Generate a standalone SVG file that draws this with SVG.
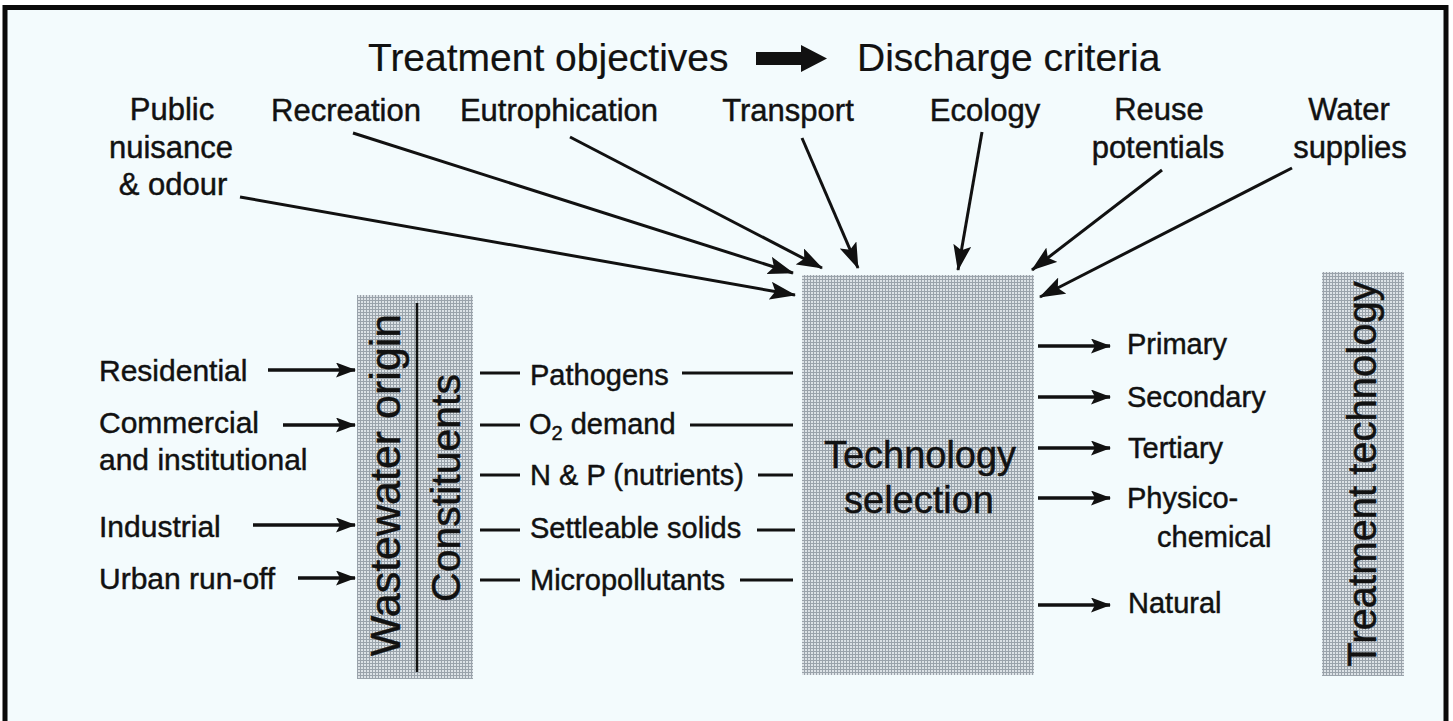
<svg xmlns="http://www.w3.org/2000/svg" width="1453" height="721" viewBox="0 0 1453 721">
<style>
text{font-family:"Liberation Sans",Arial,Helvetica,sans-serif;fill:#111;stroke:#111;stroke-width:0.45px}
.top{font-size:31px;text-anchor:middle}
.lbl{font-size:30px}
.con{font-size:29px}
.out{font-size:29px}
.big{font-size:39px;stroke-width:0.2px}
.ln{stroke:#111;stroke-width:3;fill:none}
.ar{stroke:#111;stroke-width:3;fill:none;marker-end:url(#ah)}
.sa{stroke:#111;stroke-width:3.5;fill:none;marker-end:url(#sh)}
.box{fill:url(#dots)}
</style>
<defs>
<pattern id="dots" width="3" height="3" patternUnits="userSpaceOnUse">
<rect width="3" height="3" fill="#dce2e6"/>
<rect width="3" height="1" fill="#9aa3ab"/>
<rect width="1" height="3" fill="#9aa3ab"/>
</pattern>
<marker id="ah" viewBox="0 0 26 18" refX="25" refY="9" markerWidth="26" markerHeight="18" markerUnits="userSpaceOnUse" orient="auto">
<path d="M0,0 L26,9 L0,18 L5,9 Z" fill="#111"/>
</marker>
<marker id="sh" viewBox="0 0 20 15" refX="19" refY="7.5" markerWidth="20" markerHeight="15" markerUnits="userSpaceOnUse" orient="auto">
<path d="M0,0 L20,7.5 L0,15 L4,7.5 Z" fill="#111"/>
</marker>
</defs>
<rect x="0" y="0" width="1453" height="721" fill="#ffffff"/>
<rect x="5" y="7.5" width="1441" height="730" fill="#f3fbfd" stroke="#0a0a0a" stroke-width="5"/>

<g id="title">
<text class="big" x="368" y="71">Treatment objectives</text>
<path d="M756,52 L801,52 L801,45 L827,58.5 L801,72 L801,65 L756,65 Z" fill="#111"/>
<text class="big" x="857" y="71">Discharge criteria</text>
</g>

<g id="public"><text class="top" x="172" y="120">Public</text><text class="top" x="171" y="158">nuisance</text><text class="top" x="173" y="195">&amp; odour</text></g>
<g id="recreation"><text class="top" x="346" y="121">Recreation</text></g>
<g id="eutrophication"><text class="top" x="559" y="121">Eutrophication</text></g>
<g id="transport"><text class="top" x="788" y="121">Transport</text></g>
<g id="ecology"><text class="top" x="985" y="121">Ecology</text></g>
<g id="reuse"><text class="top" x="1159" y="120">Reuse</text><text class="top" x="1158" y="158">potentials</text></g>
<g id="water"><text class="top" x="1349" y="120">Water</text><text class="top" x="1350" y="158">supplies</text></g>

<g id="tech-selection">
<rect class="box" x="802" y="275" width="232" height="400"/>
<text x="920" y="468" font-size="38" text-anchor="middle">Technology</text>
<text x="919" y="513" font-size="38" text-anchor="middle">selection</text>
</g>

<g id="origin-box">
<rect class="box" x="357" y="295" width="116" height="384"/>
<line x1="417" y1="303" x2="417" y2="672" stroke="#111" stroke-width="2.5"/>
<text transform="translate(400,485) rotate(-90)" font-size="43" text-anchor="middle">Wastewater origin</text>
<text transform="translate(460,488) rotate(-90)" font-size="41" text-anchor="middle">Constituents</text>
</g>

<g id="tech-box">
<rect class="box" x="1322" y="272" width="82" height="404"/>
<text transform="translate(1376,474) rotate(-90)" font-size="40" text-anchor="middle">Treatment technology</text>
</g>

<g id="residential"><text class="lbl" x="99" y="381">Residential</text></g>
<g id="commercial"><text class="lbl" x="99" y="433">Commercial</text><text class="lbl" x="99" y="470">and institutional</text></g>
<g id="industrial"><text class="lbl" x="99" y="537">Industrial</text></g>
<g id="urban"><text class="lbl" x="99" y="589">Urban run-off</text></g>

<g id="pathogens"><text class="con" x="530" y="385">Pathogens</text></g>
<g id="o2"><text class="con" x="529" y="434">O<tspan font-size="20" dy="6">2</tspan><tspan dy="-6"> demand</tspan></text></g>
<g id="np"><text class="con" x="530" y="485">N &amp; P (nutrients)</text></g>
<g id="solids"><text class="con" x="530" y="538">Settleable solids</text></g>
<g id="micro"><text class="con" x="530" y="590">Micropollutants</text></g>

<g id="primary"><text class="out" x="1127" y="354">Primary</text></g>
<g id="secondary"><text class="out" x="1127" y="407">Secondary</text></g>
<g id="tertiary"><text class="out" x="1128" y="458">Tertiary</text></g>
<g id="physico"><text class="out" x="1127" y="508">Physico-</text><text class="out" x="1157" y="547">chemical</text></g>
<g id="natural"><text class="out" x="1128" y="613">Natural</text></g>

<g id="connectors">
<line class="ar" x1="240" y1="197" x2="795" y2="295"/>
<line class="ar" x1="353" y1="133" x2="793" y2="273"/>
<line class="ar" x1="570" y1="137" x2="822" y2="268"/>
<line class="ar" x1="802" y1="138" x2="858" y2="268"/>
<line class="ar" x1="982" y1="132" x2="958" y2="270"/>
<line class="ar" x1="1162" y1="170" x2="1032" y2="270"/>
<line class="ar" x1="1292" y1="168" x2="1040" y2="297"/>

<line class="sa" x1="268" y1="370" x2="355" y2="370"/>
<line class="sa" x1="283" y1="425" x2="355" y2="425"/>
<line class="sa" x1="253" y1="525" x2="355" y2="525"/>
<line class="sa" x1="298" y1="578" x2="355" y2="578"/>

<line class="ln" x1="480" y1="373" x2="520" y2="373"/>
<line class="ln" x1="682" y1="373" x2="793" y2="373"/>
<line class="ln" x1="480" y1="425" x2="520" y2="425"/>
<line class="ln" x1="690" y1="425" x2="793" y2="425"/>
<line class="ln" x1="480" y1="475" x2="520" y2="475"/>
<line class="ln" x1="758" y1="475" x2="793" y2="475"/>
<line class="ln" x1="480" y1="530" x2="520" y2="530"/>
<line class="ln" x1="757" y1="530" x2="795" y2="530"/>
<line class="ln" x1="480" y1="580" x2="520" y2="580"/>
<line class="ln" x1="740" y1="580" x2="793" y2="580"/>

<line class="sa" x1="1038" y1="346" x2="1110" y2="346"/>
<line class="sa" x1="1038" y1="397" x2="1110" y2="397"/>
<line class="sa" x1="1038" y1="448" x2="1110" y2="448"/>
<line class="sa" x1="1038" y1="498" x2="1110" y2="498"/>
<line class="sa" x1="1038" y1="605" x2="1110" y2="605"/>
</g>
</svg>
